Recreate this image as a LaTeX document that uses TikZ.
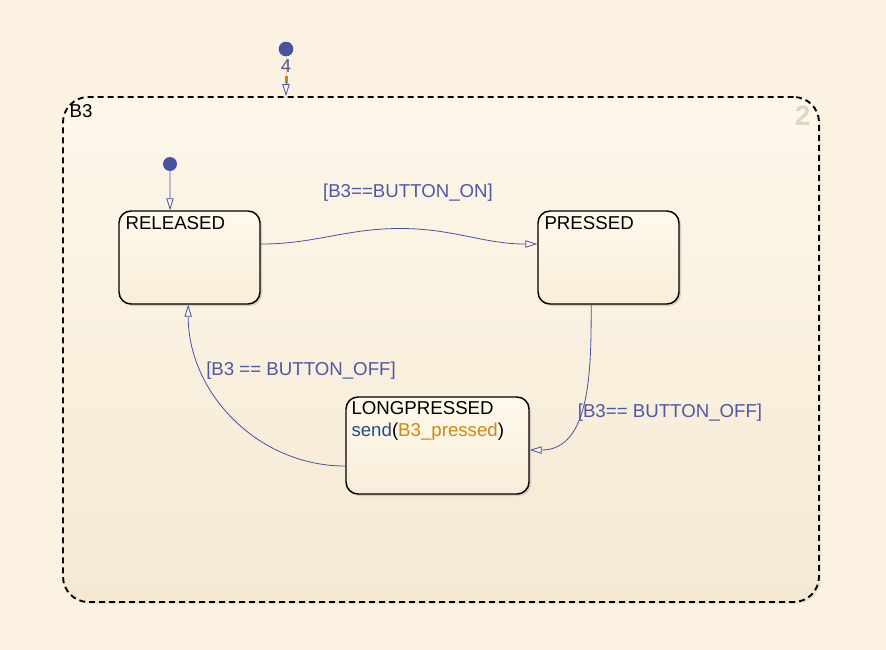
\documentclass[tikz,border=0pt]{standalone}
\usepackage{fontspec}
\setmainfont{Liberation Sans}
\usetikzlibrary{shapes, shadows, arrows.meta, positioning}
\definecolor{bgcream}{RGB}{251,242,225}
\definecolor{chartTop}{RGB}{253,247,234}
\definecolor{chartBot}{RGB}{245,233,211}
\definecolor{stateTop}{RGB}{255,249,236}
\definecolor{stateBot}{RGB}{248,237,217}
\definecolor{transBlue}{RGB}{72,82,160}
\definecolor{condBlue}{RGB}{78,88,166}
\definecolor{fnBlue}{RGB}{36,76,136}
\definecolor{dataOrange}{RGB}{206,136,18}
\definecolor{chartGrey}{RGB}{222,215,198}

\begin{document}
\begin{tikzpicture}[x=0.75pt, y=-0.75pt,
	statebox/.style={draw, line width=1.1pt, rounded corners=9pt,
		top color=stateTop, bottom color=stateBot,
		drop shadow={shadow xshift=1.5pt, shadow yshift=-1.5pt, opacity=0.3},
		minimum width=105.75pt, minimum height=69.75pt, inner sep=0pt},
	statename/.style={anchor=north west, inner sep=0pt, font=\fontsize{14}{17}\selectfont},
	trans/.style={draw=transBlue, line width=0.6pt,
		-{Triangle[open, length=9pt, width=5.5pt]}},
	cond/.style={text=condBlue, font=\fontsize{14}{17}\selectfont, inner sep=0pt},
	junction/.style={circle, fill=transBlue, minimum size=11pt, inner sep=0pt}
]
	\path[fill=bgcream, use as bounding box] (0,0) rectangle (886,650);

	% chart B3
	\node[draw, line width=1.4pt, dash pattern=on 4.5pt off 3pt, rounded corners=19pt,
		top color=chartTop, bottom color=chartBot,
		drop shadow={shadow xshift=1.5pt, shadow yshift=-1.5pt, opacity=0.15},
		minimum width=567pt, minimum height=378.75pt, inner sep=0pt,
		label={[statename, xshift=5.5pt, yshift=-6pt]north west:B3}]
		(b3) at (441,349.5) {};
	\node[anchor=north east, inner sep=0pt, text=chartGrey,
		font=\fontsize{21}{21}\selectfont\bfseries]
		(order) at ([xshift=-7pt, yshift=-7pt]b3.north east) {2};

	% default transition of the chart
	\node[junction] (dot4) at (286,49) {};
	\coordinate (mark) at (286,82);
	\draw[dataOrange!35, line width=0.5pt] (dot4) -- (mark);
	\node[below=2pt of dot4, text=condBlue, font=\fontsize{14}{14}\selectfont, inner sep=0pt] (four) {4};
	\fill[dataOrange] (284.5,76) rectangle (287.5,83);
	\draw[trans] (mark) -- ([xshift=-116.25pt]b3.north);

	% states
	\node[statebox, label={[statename, xshift=5.25pt, yshift=-4.3pt]north west:RELEASED}]
		(released) at (189.5,257.5) {};
	\node[statebox, label={[statename, xshift=5.25pt, yshift=-4.3pt]north west:PRESSED}]
		(pressed) at (608.5,257.5) {};
	\node[statebox, minimum width=137.25pt, minimum height=72.75pt,
		label={[statename, align=left, xshift=4.5pt, yshift=-3.5pt]north west:LONGPRESSED\\
			\textcolor{fnBlue}{send}(\textcolor{dataOrange}{B3\_pressed})}]
		(longpressed) at (437.5,445.5) {};

	% default transition of RELEASED
	\node[junction, minimum size=10.5pt] (dotrel) at (170,164) {};
	\draw[trans] (dotrel) -- ([xshift=-14.6pt]released.north);

	% transitions
	\coordinate (onpeak) at (400,228.5);
	\draw[trans] ([yshift=10.1pt]released.east) to[out=0, in=180] (onpeak)
		to[out=0, in=180] ([yshift=10.1pt]pressed.west);
	\node[cond] (onlbl) at (408,193) {[B3==BUTTON\_ON]};

	\draw[trans] ([xshift=-13pt]pressed.south) to[out=-90, in=0] ([yshift=-3.4pt]longpressed.east);
	\node[cond] (offlbl) at (670,413) {[B3== BUTTON\_OFF]};

	\draw[trans] ([yshift=-15.4pt]longpressed.west) to[out=180, in=-90] ([xshift=-1pt]released.south);
	\node[cond] (backlbl) at (301,371) {[B3 == BUTTON\_OFF]};

\end{tikzpicture}
\end{document}
